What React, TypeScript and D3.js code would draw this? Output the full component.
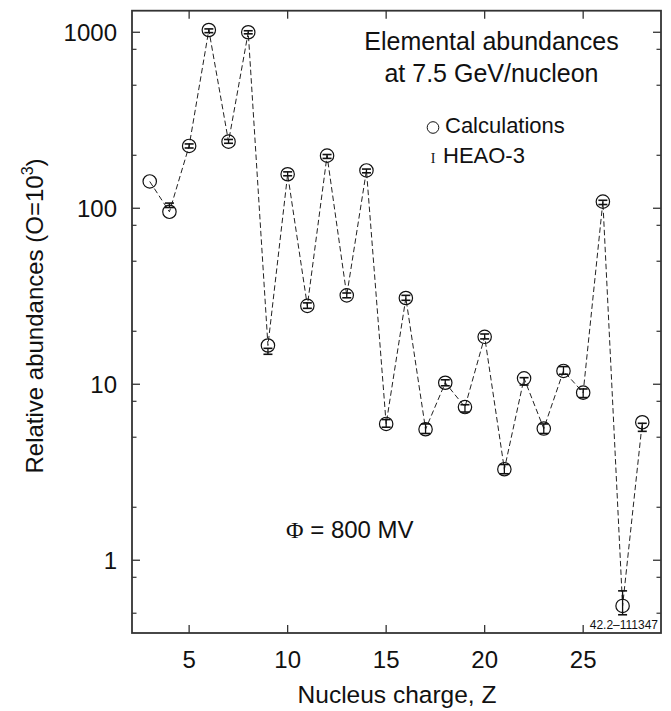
import React from "react";
import * as d3 from "d3";

const charges = [3, 4, 5, 6, 7, 8, 9, 10, 11, 12, 13, 14, 15, 16, 17, 18, 19, 20, 21, 22, 23, 24, 25, 26, 27, 28];
const calculations = [142, 95.5, 226, 1030, 239, 1000, 16.6, 156, 27.9, 199, 32.0, 164, 5.95, 30.9, 5.55, 10.2, 7.42, 18.6, 3.29, 10.8, 5.6, 11.9, 8.96, 109, 0.55, 6.08];
const heao: (number | null)[] = [null, 104, 226, 1020, 240, 1000, 15.4, 157, 28, 197, 32, 163, 6.0, 31, 5.6, 10.2, 7.3, 18.7, 3.3, 10.4, 5.6, 12.0, 8.9, 108, 0.58, 5.7];
const heaoErr: (number | null)[] = [null, 3, 6, 25, 6, 20, 0.6, 4, 1, 5, 1, 4, 0.3, 1, 0.35, 0.4, 0.35, 0.6, 0.2, 0.5, 0.35, 0.6, 0.5, 3, 0.09, 0.3];

const xTicks = [5, 10, 15, 20, 25];
const yMajor = [1, 10, 100, 1000];
const yMinor = [0.5, 0.8, 2, 5, 8, 20, 50, 80, 200, 500, 800];

const W = 671, H = 711;
const L = 132, R = 661, T = 10.7, B = 633;

export default function App() {
  const x = d3.scaleLinear().domain([2.1, 28.95]).range([L, R]);
  const y = d3.scaleLog().domain([0.386, 1326]).range([B, T]);
  const pts = charges.map((z, i) => [x(z), y(calculations[i])] as [number, number]);
  const line = d3.line()(pts) || "";
  const sans = "'Liberation Sans', Arial, sans-serif";
  const serif = "'Liberation Serif', 'Times New Roman', serif";
  const frame = "#333";
  return (
    <svg width={W} height={H} style={{ position: "absolute", left: 0, top: 0, background: "#fff" }}>
      <rect x={0} y={0} width={W} height={H} fill="#fff" />
      <rect x={L} y={T} width={R - L} height={B - T} fill="none" stroke={frame} strokeWidth={1.8} />
      {xTicks.map((t) => (
        <g key={"x" + t}>
          <line x1={x(t)} x2={x(t)} y1={B} y2={B - 8} stroke={frame} strokeWidth={1.3} />
          <line x1={x(t)} x2={x(t)} y1={T} y2={T + 8} stroke={frame} strokeWidth={1.3} />
          <text x={x(t)} y={668} textAnchor="middle" fontFamily={sans} fontSize={24} fill="#111">{t}</text>
        </g>
      ))}
      {yMajor.map((t) => (
        <g key={"ym" + t}>
          <line x1={L} x2={L + 8} y1={y(t)} y2={y(t)} stroke={frame} strokeWidth={1.3} />
          <line x1={R} x2={R - 8} y1={y(t)} y2={y(t)} stroke={frame} strokeWidth={1.3} />
          <text x={117} y={y(t) + 8.5} textAnchor="end" fontFamily={sans} fontSize={24} fill="#111">{t}</text>
        </g>
      ))}
      {yMinor.map((t) => (
        <g key={"yn" + t}>
          <line x1={L} x2={L + 4.5} y1={y(t)} y2={y(t)} stroke={frame} strokeWidth={1.2} />
          <line x1={R} x2={R - 4.5} y1={y(t)} y2={y(t)} stroke={frame} strokeWidth={1.2} />
        </g>
      ))}
      <text x={(L + R) / 2 + 0.5} y={703} textAnchor="middle" fontFamily={sans} fontSize={24.5} fill="#111">Nucleus charge, Z</text>
      <text transform={`translate(43, 316) rotate(-90)`} textAnchor="middle" fontFamily={sans} fontSize={24} fill="#111">
        Relative abundances (O=10<tspan dy={-10} fontSize={16}>3</tspan><tspan dy={10}>)</tspan>
      </text>
      <path d={line} fill="none" stroke="#222" strokeWidth={1} strokeDasharray="5.5,3" />
      {pts.map(([px, py], i) => (
        <circle key={"c" + i} cx={px} cy={py} r={6.7} fill="none" stroke="#111" strokeWidth={1.2} />
      ))}
      {charges.map((z, i) => {
        const v = heao[i];
        const e = heaoErr[i];
        if (v == null || e == null) return null;
        const px = x(z);
        const y1 = y(v + e), y2 = y(v - e);
        return (
          <g key={"e" + i} stroke="#111">
            <line x1={px} x2={px} y1={y1} y2={y2} strokeWidth={1.3} />
            <line x1={px - 4.5} x2={px + 4.5} y1={y1} y2={y1} strokeWidth={1.6} />
            <line x1={px - 4.5} x2={px + 4.5} y1={y2} y2={y2} strokeWidth={1.6} />
          </g>
        );
      })}
      <text x={491.5} y={50} textAnchor="middle" fontFamily={sans} fontSize={25} fill="#111">Elemental abundances</text>
      <text x={491.5} y={81.7} textAnchor="middle" fontFamily={sans} fontSize={25} fill="#111">at 7.5 GeV/nucleon</text>
      <circle cx={433} cy={127.5} r={5.8} fill="none" stroke="#111" strokeWidth={1} />
      <text x={445} y={133.3} fontFamily={sans} fontSize={22} fill="#111">Calculations</text>
      <text x={433} y={163.3} textAnchor="middle" fontFamily={serif} fontSize={14} fill="#111">I</text>
      <text x={443} y={163.3} fontFamily={sans} fontSize={22} fill="#111">HEAO-3</text>
      <text x={286} y={538.3} fontFamily={sans} fontSize={24} fill="#111">
        <tspan fontFamily={serif}>Φ</tspan> = 800 MV
      </text>
      <text x={658} y={629} textAnchor="end" fontFamily={sans} fontSize={12} fill="#111">42.2–111347</text>
    </svg>
  );
}
